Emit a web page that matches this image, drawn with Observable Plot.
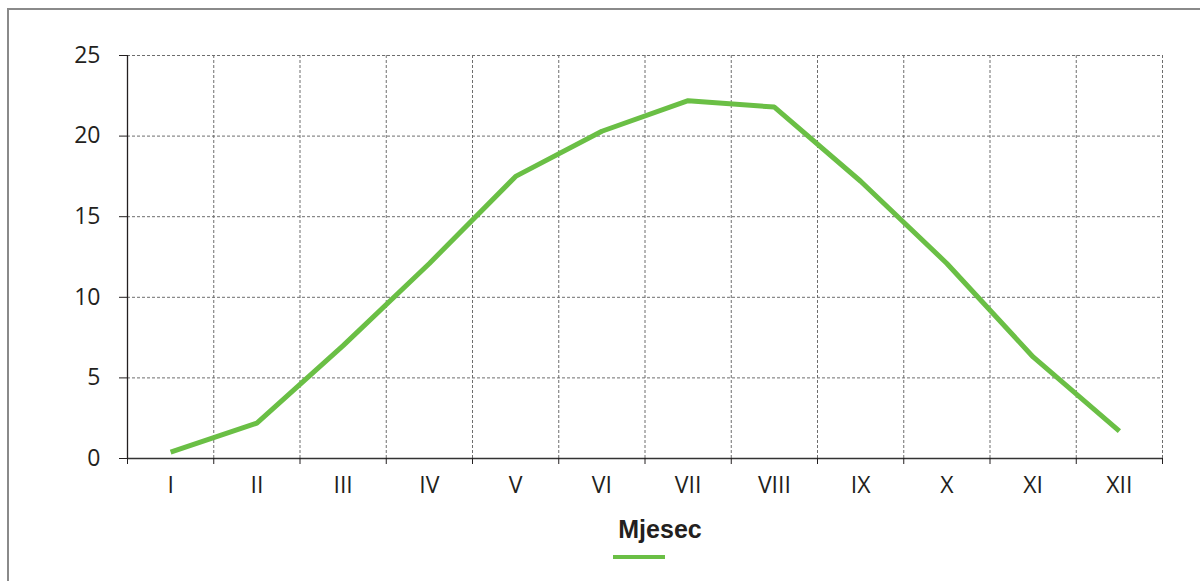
<!DOCTYPE html>
<html>
<head>
<meta charset="utf-8">
<script src="https://cdn.jsdelivr.net/npm/d3@7"></script>
<script src="https://cdn.jsdelivr.net/npm/@observablehq/plot@0.6"></script>
<style>
  html, body { margin: 0; padding: 0; background: #fff; }
  #wrap { position: relative; width: 1200px; height: 581px; overflow: hidden; }
  #frame { position: absolute; left: 7px; top: 8px; width: 1300px; height: 700px;
           border-top: 2px solid #8a8a8a; border-left: 2px solid #8a8a8a; box-sizing: border-box; }
  #chart { position: absolute; left: 0; top: 0; }
  #chart svg text { font-size: 23px !important; font-family: 'Open Sans', 'DejaVu Sans', sans-serif !important; fill: #231f20; }
  #legend { position: absolute; left: 0; top: 510px; width: 1200px; height: 71px; }
  #legend .title { position: absolute; left: 560px; width: 200px; top: 5px; text-align: center;
                   font-family: "Liberation Sans", Arial, sans-serif; font-weight: bold; font-size: 25px; color: #231f20; }
  #legend .swatch { position: absolute; left: 613px; top: 45px; width: 52px; height: 4px; background: #6abf45; }
</style>
</head>
<body>
<div id="wrap">
  <div id="frame"></div>
  <div id="chart"></div>
  <div id="legend"><div class="title">Mjesec</div><div class="swatch"></div></div>
</div>
<script>
const months = ["I", "II", "III", "IV", "V", "VI", "VII", "VIII", "IX", "X", "XI", "XII"];
const temps = [0.4, 2.2, 7.0, 12.1, 17.5, 20.3, 22.2, 21.8, 17.2, 12.1, 6.3, 1.7];
const yTicks = [0, 5, 10, 15, 20, 25];

const data = months.map((m, i) => ({pos: i + 0.5, month: m, value: temps[i]}));
const boundaries = d3.range(0, months.length + 1);
const centers = data.map(d => d.pos);

const font = "'Open Sans', 'DejaVu Sans', sans-serif";

const chart = Plot.plot({
  width: 1200,
  height: 510,
  marginLeft: 127,
  marginRight: 38,
  marginTop: 55,
  marginBottom: 52,
  style: {fontFamily: font, fontSize: "23px", color: "#231f20", background: "transparent"},
  x: {domain: [0, months.length]},
  y: {domain: [0, 25]},
  marks: [
    Plot.gridY(yTicks.slice(1), {stroke: "#6d6d6d", strokeOpacity: 1, strokeDasharray: "3,2"}),
    Plot.gridX(boundaries.slice(1), {stroke: "#6d6d6d", strokeOpacity: 1, strokeDasharray: "3,2"}),
    Plot.ruleY([0], {stroke: "#333", strokeWidth: 1.3}),
    Plot.ruleX([0], {stroke: "#231f20", strokeWidth: 1.3}),
    Plot.axisY({ticks: yTicks, tickSize: 8, tickPadding: 19, stroke: "#231f20", label: null}),
    Plot.axisX({ticks: boundaries, tickSize: 6, tickFormat: () => "", stroke: "#231f20", label: null}),
    Plot.axisX({ticks: centers, tickSize: 0, tickPadding: 18, tickFormat: (d) => months[Math.round(d - 0.5)], label: null}),
    Plot.line(data, {x: "pos", y: "value", stroke: "#6abf45", strokeWidth: 5, strokeLinejoin: "miter", strokeLinecap: "butt"})
  ]
});
document.getElementById("chart").appendChild(chart);
</script>
</body>
</html>
